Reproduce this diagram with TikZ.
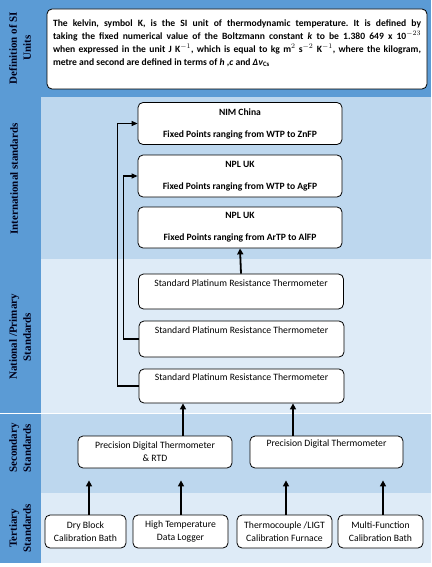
\documentclass[tikz,border=0pt]{standalone}
\usepackage{fontspec}
\setmainfont{Carlito}
\newfontfamily\sidefont{Liberation Serif}
\usetikzlibrary{
    arrows.meta,
    calc,
    positioning
}
\definecolor{bandmid}{HTML}{5B9BD5}
\definecolor{bandlight}{HTML}{BDD7EE}
\definecolor{bandpale}{HTML}{DEEBF7}
\frenchspacing

\begin{document}
\begin{tikzpicture}[x=1pt, y=-1pt,
    stdbox/.style={draw, thick, rounded corners=5pt, fill=white, align=center,
        inner sep=0pt, font=\fontsize{9.7}{13}\selectfont},
    levellabel/.style={rotate=90, align=center, text=black!90!blue,
        font=\sidefont\bfseries\fontsize{11}{14}\selectfont},
    uparrow/.style={-{Triangle[length=6pt,width=6pt]}, line width=1.8pt},
    feedarrow/.style={-{Triangle[length=6pt,width=5pt]}, line width=1.1pt}]
                    \useasboundingbox (0, 0) rectangle (431, 567);
                    % bands of the hierarchy
                    \fill[bandmid] (0, 0) rectangle (431, 97);
                    \fill[bandlight] (41, 97) rectangle (431, 259);
                    \fill[bandpale] (41, 259) rectangle (431, 413);
                    \fill[bandlight] (41, 413) rectangle (431, 493);
                    \fill[bandpale] (41, 493) rectangle (431, 563);
                    \fill[bandmid] (0, 0) rectangle (41, 563);
                    \draw[white, line width=1pt] (0, 413) -- (431, 413);
                    % level names
                    \node[levellabel] (lbldef) at (20, 48) {Definition of SI\\Units};
                    \node[levellabel] (lblint) at (14, 179) {International standards};
                    \node[levellabel] (lblnat) at (20, 337) {National /Primary\\Standards};
                    \node[levellabel] (lblsec) at (20, 448) {Secondary\\Standards};
                    \node[levellabel] (lbltert) at (20, 528) {Tertiary\\Standards};
                    % definition
                    \node[stdbox, text width=368pt, align=justify, minimum height=80pt, inner xsep=6pt,
                        font=\bfseries\fontsize{9.6}{13}\selectfont] (defn) at (237, 49)
                        {The kelvin, symbol K, is the SI unit of thermodynamic temperature. It is defined by\linebreak
                        taking the fixed numerical value of the Boltzmann constant \textit{k} to be 1.380 649 x 10$^{-23}$\linebreak
                        when expressed in the unit J K$^{-1}$, which is equal to kg m$^{2}$ s$^{-2}$ K$^{-1}$, where the kilogram,\linebreak
                        metre and second are defined in terms of \textit{h} ,\textit{c} and \textit{Δν}\textsubscript{Cs}\par\rule{0pt}{6pt}};
                    % international standards
                    \node[stdbox, minimum width=204pt, minimum height=42pt, font=\bfseries\fontsize{9.6}{11}\selectfont]
                        (nim) at (240, 123.5) {NIM China\\[11pt]Fixed Points ranging from WTP to ZnFP};
                    \node[stdbox, minimum width=204pt, minimum height=42pt, font=\bfseries\fontsize{9.6}{11}\selectfont]
                        (npla) at (240, 176) {NPL UK\\[11pt]Fixed Points ranging from WTP to AgFP};
                    \node[stdbox, minimum width=204pt, minimum height=41pt, font=\bfseries\fontsize{9.6}{11}\selectfont]
                        (nplb) at (240, 227.5) {NPL UK\\[11pt]Fixed Points ranging from ArTP to AlFP};
                    % national / primary standards
                    \node[stdbox, minimum width=205pt, minimum height=35pt] (sprta) at (241, 291.5)
                        {Standard Platinum Resistance Thermometer\\\strut};
                    \node[stdbox, minimum width=205pt, minimum height=36pt] (sprtb) at (241.5, 339)
                        {Standard Platinum Resistance Thermometer\\\strut};
                    \node[stdbox, minimum width=205pt, minimum height=34pt] (sprtc) at (241.5, 386)
                        {Standard Platinum Resistance Thermometer\\\strut};
                    % secondary standards
                    \node[stdbox, minimum width=154pt, minimum height=32pt] (pdtrtd) at (155, 452)
                        {Precision Digital Thermometer\\\& RTD};
                    \node[stdbox, minimum width=153pt, minimum height=32pt] (pdt) at (326.5, 452)
                        {Precision Digital Thermometer\\\strut};
                    % tertiary standards
                    \node[stdbox, minimum width=81pt, minimum height=33pt] (dryblock) at (85.5, 531.5)
                        {Dry Block\\Calibration Bath};
                    \node[stdbox, minimum width=95pt, minimum height=33pt] (datalog) at (180.5, 531.5)
                        {High Temperature\\Data Logger};
                    \node[stdbox, minimum width=95pt, minimum height=33pt] (furnace) at (284.5, 531.5)
                        {Thermocouple /LIGT\\Calibration Furnace};
                    \node[stdbox, minimum width=85pt, minimum height=33pt] (multibath) at (380.5, 531.5)
                        {Multi-Function\\Calibration Bath};
                    % traceability links
                    \draw[uparrow] (sprta.north) -- (nplb.south);
                    \draw[feedarrow] (sprtc.west) -- ++(-21, 0) |- (nim.west);
                    \draw[feedarrow] (sprtb.west) -- ++(-15, 0) |- (npla.west);
                    \draw[uparrow] ([xshift=28pt]pdtrtd.north) -- ([xshift=-58.5pt]sprtc.south);
                    \draw[uparrow] ([xshift=-33.5pt]pdt.north) -- ([xshift=51.5pt]sprtc.south);
                    \draw[uparrow, shorten >=12pt] ([xshift=3.5pt]dryblock.north) -- ([xshift=-66pt]pdtrtd.south);
                    \draw[uparrow, shorten >=12pt] ([xshift=0.5pt]datalog.north) -- ([xshift=26pt]pdtrtd.south);
                    \draw[uparrow, shorten >=12pt] ([xshift=1.5pt]furnace.north) -- ([xshift=-40.5pt]pdt.south);
                    \draw[uparrow, shorten >=12pt] ([xshift=2.5pt]multibath.north) -- ([xshift=56.5pt]pdt.south);
                \end{tikzpicture}
\end{document}
